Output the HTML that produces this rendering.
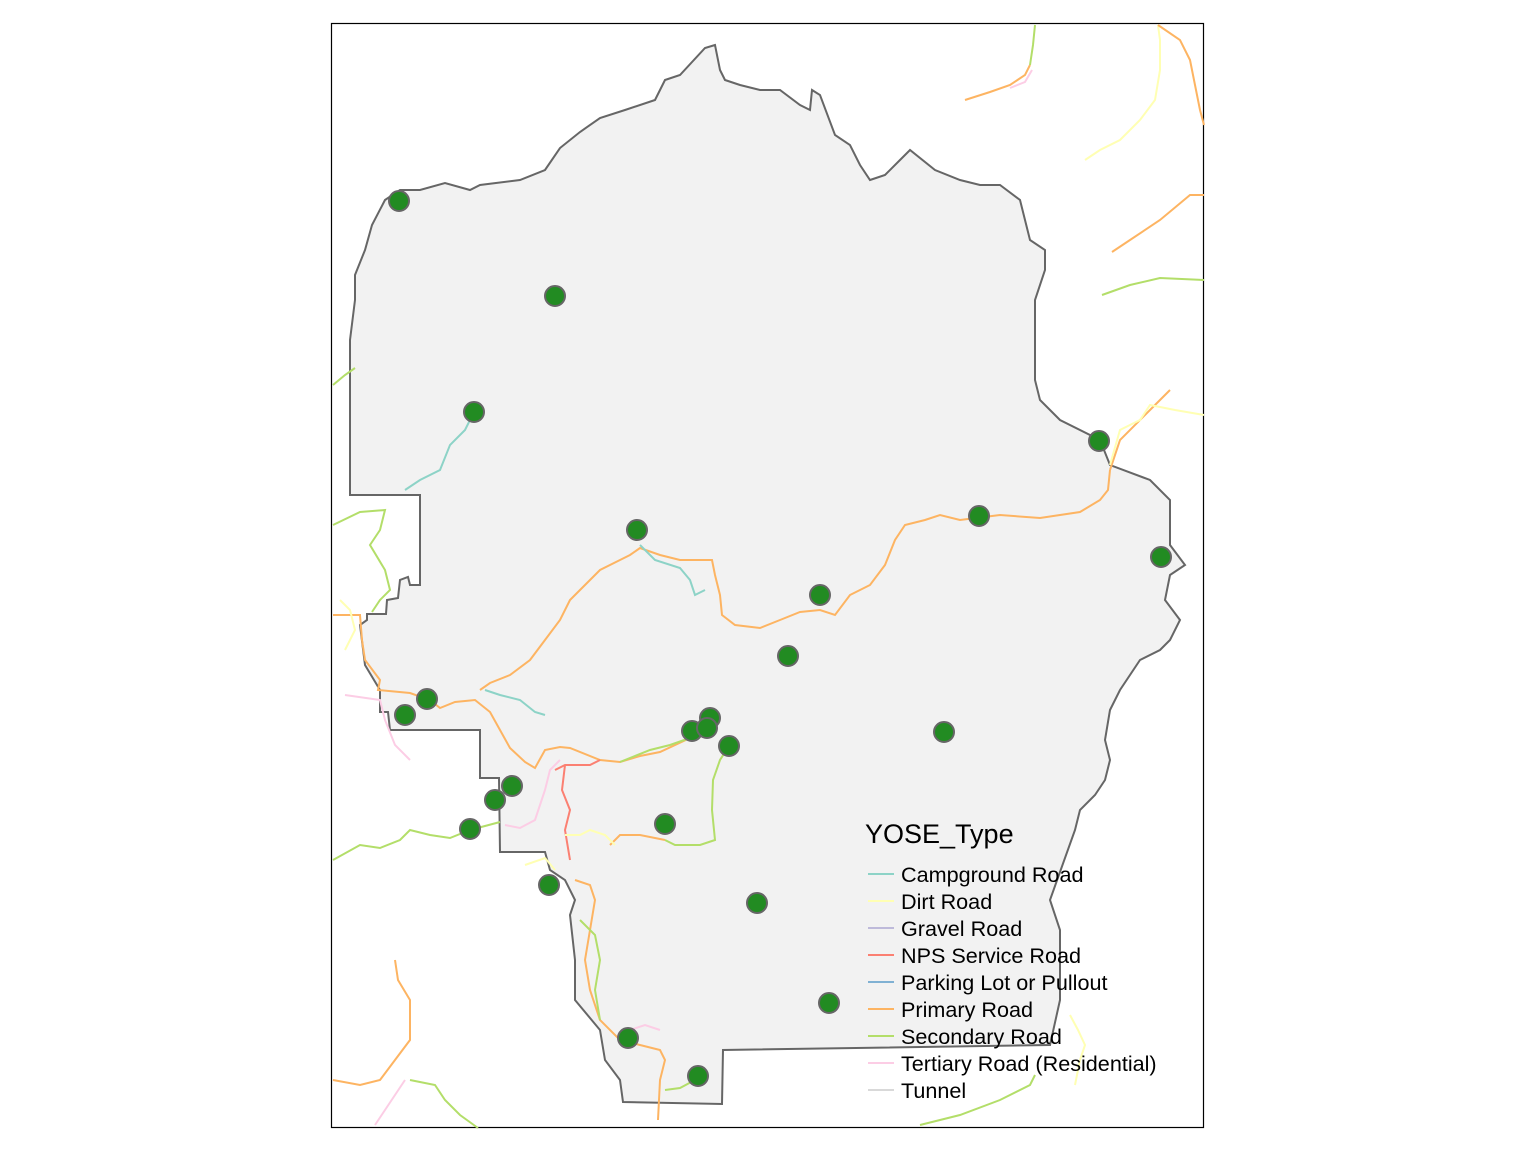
<!DOCTYPE html>
<html><head><meta charset="utf-8"><style>
body{margin:0;background:#fff;width:1536px;height:1152px;overflow:hidden}
svg{display:block}
text{font-family:"Liberation Sans",Arial,sans-serif}
</style></head><body>
<svg id="map" width="1536" height="1152">
<rect x="331.5" y="23.5" width="872" height="1104" fill="#fff" stroke="#000" stroke-width="1.2"/>
<g id="boundary-g"></g>
<g id="roads-g" fill="none" stroke-width="2"></g>
<g id="sites-g"></g>
<g id="legend-g"></g>
</svg>
<script>
const boundary=[[715,45],[705,48],[680,75],[665,80],[655,100],[625,110],[600,118],[580,132],[560,148],[545,170],[520,180],[480,185],[470,190],[445,183],[420,190],[400,190],[385,200],[372,225],[365,250],[355,275],[355,300],[350,340],[350,495],[420,495],[420,585],[410,585],[408,577],[400,580],[398,598],[387,600],[386,614],[367,614],[367,620],[360,625],[365,665],[380,690],[380,712],[388,712],[390,730],[480,730],[480,778],[499,778],[500,852],[545,852],[550,870],[565,880],[575,900],[570,915],[575,960],[575,1000],[600,1030],[605,1060],[620,1080],[623,1102],[722,1104],[723,1050],[1050,1045],[1060,1000],[1060,930],[1050,900],[1075,830],[1080,810],[1095,795],[1105,780],[1110,760],[1105,740],[1110,710],[1120,690],[1140,660],[1160,650],[1170,640],[1180,620],[1165,600],[1170,575],[1185,565],[1170,545],[1170,500],[1150,480],[1110,465],[1100,440],[1060,420],[1040,400],[1035,380],[1035,300],[1045,270],[1045,250],[1030,240],[1020,200],[1000,185],[980,185],[960,180],[935,170],[910,150],[900,160],[885,175],[870,180],[860,165],[850,145],[835,135],[820,95],[812,90],[810,110],[800,105],[780,90],[760,90],[740,85],[725,80],[720,70]];
const roadTypes=["Campground Road","Dirt Road","Gravel Road","NPS Service Road","Parking Lot or Pullout","Primary Road","Secondary Road","Tertiary Road (Residential)","Tunnel"];
const roadColors=["#8DD3C7","#FFFFB3","#BEBADA","#FB8072","#80B1D3","#FDB462","#B3DE69","#FCCDE5","#D9D9D9"];
const roads=[
[5,[[333,615],[360,615],[362,640],[365,660],[380,680],[378,690],[410,693],[430,700],[440,708],[455,702],[475,700],[490,712],[500,730],[510,748],[525,762],[535,768],[545,750],[560,747],[570,748],[600,760],[620,762],[640,756],[660,752],[690,738],[705,725]]],
[5,[[480,690],[490,683],[510,675],[530,660],[545,640],[560,620],[570,600],[580,590],[590,580],[600,570],[620,560],[630,555],[640,548],[660,555],[680,560],[700,560],[712,560],[715,575],[720,595],[722,615],[735,625],[760,628],[780,620],[800,612],[820,610],[835,615],[850,595],[870,585],[885,565],[895,540],[905,525],[925,520],[940,515],[960,520],[1000,515],[1040,518],[1080,512],[1100,500],[1108,490],[1110,470]]],
[5,[[1110,470],[1120,440],[1150,410],[1170,390]]],
[0,[[474,412],[465,430],[450,445],[440,470],[420,480],[405,490]]],
[0,[[640,545],[655,560],[680,568],[690,580],[695,595],[705,590]]],
[0,[[485,690],[500,695],[520,700],[535,712],[545,715]]],
[6,[[333,525],[360,512],[385,510],[380,530],[370,545],[385,570],[390,590],[380,600],[372,612]]],
[6,[[333,860],[360,845],[380,848],[400,840],[410,830],[430,835],[450,838],[470,830],[500,822]]],
[6,[[620,762],[650,750],[670,745],[690,738]]],
[6,[[729,746],[720,760],[713,780],[712,810],[715,840],[700,845],[675,845],[665,840]]],
[5,[[665,840],[640,835],[620,835],[610,845]]],
[3,[[555,770],[565,765],[590,765],[600,760]]],
[3,[[565,765],[562,790],[570,810],[565,830],[570,860]]],
[7,[[505,825],[520,828],[535,820],[545,790],[550,770],[560,760]]],
[7,[[345,695],[380,700],[385,720],[395,745],[410,760]]],
[1,[[345,650],[355,630],[350,610],[340,600]]],
[1,[[565,835],[580,835],[590,830],[605,835],[615,845]]],
[1,[[525,865],[545,858],[555,870]]],
[5,[[575,880],[590,885],[595,900],[590,930],[585,960],[590,990],[600,1020],[620,1040],[640,1045],[660,1050],[665,1060],[660,1080],[658,1120]]],
[6,[[580,920],[595,935],[600,960],[595,990],[600,1020]]],
[6,[[665,1090],[680,1088],[695,1080]]],
[7,[[630,1030],[645,1025],[660,1030]]],
[5,[[333,1080],[360,1085],[380,1080],[395,1060],[410,1040],[410,1000],[398,980],[395,960]]],
[6,[[410,1080],[435,1085],[445,1100],[460,1115],[478,1128]]],
[7,[[375,1125],[385,1110],[395,1095],[405,1080]]],
[6,[[920,1125],[960,1115],[1000,1100],[1030,1085],[1035,1075]]],
[1,[[1070,1015],[1078,1030],[1085,1045],[1080,1060],[1075,1085]]],
[1,[[1085,160],[1100,150],[1120,140],[1140,120],[1155,100],[1160,70],[1160,40],[1158,25]]],
[5,[[1158,25],[1180,40],[1190,60],[1195,85],[1200,110],[1204,125]]],
[5,[[1112,252],[1130,240],[1160,220],[1178,205],[1190,195],[1204,195]]],
[6,[[1102,295],[1130,285],[1160,278],[1204,280]]],
[5,[[965,100],[990,92],[1010,85],[1025,75],[1030,65]]],
[7,[[1010,88],[1025,82],[1032,70]]],
[6,[[1030,65],[1033,45],[1035,25]]],
[1,[[1110,465],[1120,430],[1140,420],[1150,405],[1175,410],[1204,415]]],
[6,[[333,385],[345,375],[355,368]]]
];
const sitesX=[399,555,474,1099,637,979,1161,820,788,427,405,944,710,692,707,729,512,495,470,665,549,757,829,628,698];
const sitesY=[201,296,412,441,530,516,557,595,656,699,715,732,718,731,728,746,786,800,829,824,885,903,1003,1038,1076];
const NS="http://www.w3.org/2000/svg";
function mk(t,a,p){const e=document.createElementNS(NS,t);for(const k in a)e.setAttribute(k,a[k]);p.appendChild(e);return e;}
const bg=document.getElementById('boundary-g');
const poly=mk('polygon',{points:boundary.map(p=>p.join(',')).join(' '),fill:'#F2F2F2',stroke:'#666','stroke-width':2},bg);


const rg=document.getElementById('roads-g');
roads.forEach(r=>{
 const l=mk('polyline',{points:r[1].map(p=>p.join(',')).join(' '),stroke:roadColors[r[0]]},rg);
 
 
});
const sg=document.getElementById('sites-g');
sitesX.forEach((x,i)=>{
 const c=mk('circle',{cx:x,cy:sitesY[i],r:10,fill:'#228B22',stroke:'#666','stroke-width':2},sg);
 
 
});
const lg=document.getElementById('legend-g');
const tt=mk('text',{x:865,y:843,'font-size':27,fill:'#000'},lg);tt.textContent='YOSE_Type';


roadTypes.forEach((t,i)=>{
 const y=874+i*27;
 const k=mk('line',{x1:868,x2:894,y1:y,y2:y,stroke:roadColors[i],'stroke-width':2},lg);
 
 
 const tx=mk('text',{x:901,y:y+8,'font-size':21.6,fill:'#000'},lg);tx.textContent=t;
 
 
});
</script>
</body></html>
